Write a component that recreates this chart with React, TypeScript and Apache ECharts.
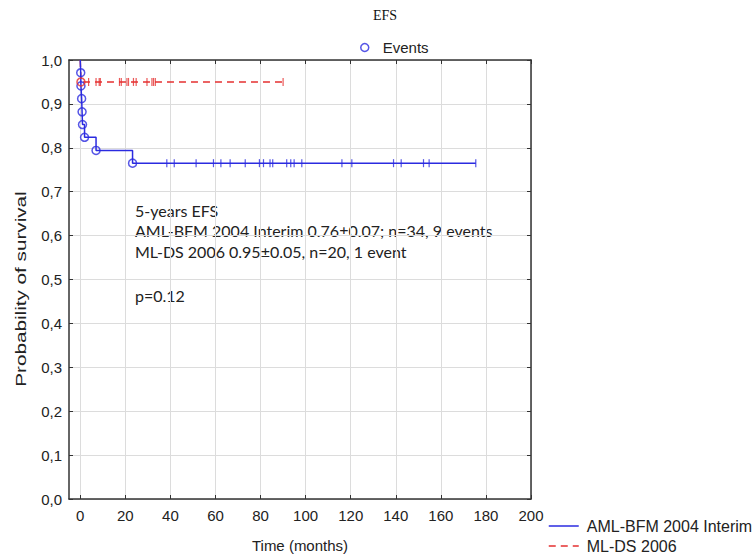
import React, { useEffect, useRef } from "react";
import * as echarts from "echarts";

// ---- data ----
const xTickValues = [0, 20, 40, 60, 80, 100, 120, 140, 160, 180, 200];

// AML-BFM 2004 Interim: Kaplan-Meier steps (time in months, survival)
const amlStepTimes = [0, 0.2, 0.3, 0.6, 0.8, 1.0, 1.9, 7.0, 23.2];
const amlStepSurv = [1.0, 0.971, 0.941, 0.912, 0.882, 0.853, 0.824, 0.794, 0.765];
const amlEndTime = 175.5;
const amlCensorTimes = [38.4, 41.7, 51.4, 59.1, 62.4, 66.5, 73.2, 79.5, 81.3, 84.2, 85.4, 91.6, 93.4, 94.9, 98.3, 116.1, 120.5, 139.0, 142.4, 152.3, 154.8, 175.5];

// ML-DS 2006
const mldsStepTimes = [0, 0.3];
const mldsStepSurv = [1.0, 0.95];
const mldsEndTime = 90;
const mldsCensorTimes = [3.7, 7.0, 8.4, 8.9, 17.4, 18.2, 20.7, 21.4, 23.6, 24.8, 29.6, 31.8, 32.5, 33.3, 90];

const summaryLines = [
  "5-years EFS",
  "AML-BFM 2004 Interim 0.76\u00b10.07; n=34, 9 events",
  "ML-DS 2006 0.95\u00b10.05, n=20, 1 event",
];
const pValueText = "p=0.12";

const BLUE = "#2b2be0";
const RED = "#e53030";
const AXIS = "#333333";
const TEXT = "#222222";
const GRID = "#dcdcdc";
const SANS = '"Liberation Sans", Arial, sans-serif';

function survAt(times: number[], surv: number[], t: number) {
  let s = surv[0];
  for (let i = 0; i < times.length; i++) if (times[i] <= t) s = surv[i];
  return s;
}

export default function App() {
  const ref = useRef<HTMLDivElement>(null);

  useEffect(() => {
    if (!ref.current) return;
    const chart = echarts.init(ref.current, null, { renderer: "svg" });

    const amlLine = amlStepTimes.map((t, i) => [t, amlStepSurv[i]]);
    amlLine.push([amlEndTime, amlStepSurv[amlStepSurv.length - 1]]);
    const mldsLine = mldsStepTimes.map((t, i) => [t, mldsStepSurv[i]]);
    mldsLine.push([mldsEndTime, mldsStepSurv[mldsStepSurv.length - 1]]);

    const events: any[] = amlStepTimes.slice(1).map((t, i) => [t, amlStepSurv[i + 1]]);
    mldsStepTimes.slice(1).forEach((t, i) => {
      events.push({ value: [t, mldsStepSurv[i + 1]], itemStyle: { borderColor: RED } });
    });

    const amlCens = amlCensorTimes.map((t) => [t, survAt(amlStepTimes, amlStepSurv, t)]);
    const mldsCens = mldsCensorTimes.map((t) => [t, survAt(mldsStepTimes, mldsStepSurv, t)]);

    const xBase = {
      type: "value" as const,
      min: -5,
      max: 200,
      axisLine: { show: true, onZero: false, lineStyle: { color: AXIS, width: 1.5 } },
      axisTick: { show: true, inside: true, length: 4, customValues: xTickValues, lineStyle: { color: AXIS } },
    };

    const option: any = {
      animation: false,
      backgroundColor: "#ffffff",
      grid: { left: 69, right: 224, top: 60, bottom: 57, containLabel: false },
      xAxis: [
        {
          ...xBase,
          position: "bottom",
          axisLabel: { customValues: xTickValues, fontSize: 15, color: TEXT, margin: 9, fontFamily: SANS },
          splitLine: { show: true, lineStyle: { color: GRID, width: 1 } },
          name: "Time (months)",
          nameLocation: "middle",
          nameGap: 39,
          nameTextStyle: { fontSize: 15, color: TEXT, fontFamily: SANS },
        },
        {
          ...xBase,
          position: "top",
          axisLabel: { show: false },
          splitLine: { show: false },
        },
      ],
      yAxis: [
        {
          type: "value",
          min: 0,
          max: 1,
          interval: 0.1,
          position: "left",
          axisLine: { show: true, onZero: false, lineStyle: { color: AXIS, width: 1.5 } },
          axisTick: { show: true, inside: true, length: 4, lineStyle: { color: AXIS } },
          axisLabel: {
            fontSize: 15,
            color: TEXT,
            margin: 7,
            fontFamily: SANS,
            formatter: (v: number) => v.toFixed(1).replace(".", ","),
          },
          splitLine: { show: true, lineStyle: { color: GRID, width: 1 } },
        },
        {
          type: "value",
          min: 0,
          max: 1,
          interval: 0.1,
          position: "right",
          axisLine: { show: true, onZero: false, lineStyle: { color: AXIS, width: 1.5 } },
          axisTick: { show: true, inside: true, length: 4, lineStyle: { color: AXIS } },
          axisLabel: { show: false },
          splitLine: { show: false },
        },
      ],
      legend: [
        {
          data: ["Events"],
          left: 355,
          top: 35,
          itemWidth: 8,
          itemHeight: 8,
          textStyle: { fontSize: 15, color: TEXT, fontFamily: SANS, padding: [0, 0, 0, 9] },
          itemStyle: { borderWidth: 1.5 },
          selectedMode: false,
        },
        {
          data: ["AML-BFM 2004 Interim", "ML-DS 2006"],
          orient: "vertical",
          left: 546,
          top: 516,
          padding: 2,
          itemWidth: 30,
          itemHeight: 14,
          itemGap: 4,
          itemStyle: { opacity: 0 },
          lineStyle: { width: 1.5 },
          textStyle: { fontSize: 16, color: TEXT, fontFamily: SANS, padding: [0, 0, 0, 3] },
          selectedMode: false,
        },
      ],
      series: [
        {
          name: "ML-DS 2006",
          type: "line",
          step: "end",
          data: mldsLine,
          symbol: "none",
          lineStyle: { color: RED, width: 1.5, type: [7, 5] },
          itemStyle: { color: RED },
          z: 3,
        },
        {
          name: "AML-BFM 2004 Interim",
          type: "line",
          step: "end",
          data: amlLine,
          symbol: "none",
          lineStyle: { color: BLUE, width: 1.5 },
          itemStyle: { color: BLUE },
          z: 4,
        },
        {
          name: "AML censored",
          type: "scatter",
          data: amlCens,
          symbol: "rect",
          symbolSize: [1.2, 8],
          itemStyle: { color: BLUE },
          z: 5,
        },
        {
          name: "ML-DS censored",
          type: "scatter",
          data: mldsCens,
          symbol: "rect",
          symbolSize: [1.2, 8],
          itemStyle: { color: RED },
          z: 5,
        },
        {
          name: "Events",
          type: "scatter",
          data: events,
          symbol: "circle",
          symbolSize: 8,
          itemStyle: { color: "rgba(0,0,0,0)", borderColor: BLUE, borderWidth: 1.5 },
          z: 6,
        },
      ],
      graphic: [
        {
          type: "text",
          x: 385,
          y: 15,
          style: {
            text: "EFS",
            font: '14px "Liberation Serif", "Times New Roman", serif',
            fill: "#111",
            textAlign: "center",
            textVerticalAlign: "middle",
            align: "center",
            verticalAlign: "middle",
          },
        },
        {
          type: "text",
          x: 21,
          y: 289,
          rotation: Math.PI / 2,
          scaleX: 1.38,
          style: {
            text: "Probability of survival",
            font: `15px ${SANS}`,
            fill: TEXT,
            textAlign: "center",
            textVerticalAlign: "middle",
            align: "center",
            verticalAlign: "middle",
          },
        },
        ...summaryLines.map((line, i) => ({
          type: "text",
          x: 135,
          y: 210 + i * 20.8,
          style: {
            text: line,
            font: '16px Lato, "Liberation Sans", sans-serif',
            fill: TEXT,
            textAlign: "left",
            textVerticalAlign: "middle",
            align: "left",
            verticalAlign: "middle",
          },
        })),
        {
          type: "text",
          x: 135,
          y: 295,
          style: {
            text: pValueText,
            font: '16px Lato, "Liberation Sans", sans-serif',
            fill: TEXT,
            textAlign: "left",
            textVerticalAlign: "middle",
            align: "left",
            verticalAlign: "middle",
          },
        },
      ],
    };

    chart.setOption(option);
    return () => chart.dispose();
  }, []);

  return (
    <div
      ref={ref}
      style={{ position: "absolute", left: 0, top: 0, width: 755, height: 558 }}
    />
  );
}
